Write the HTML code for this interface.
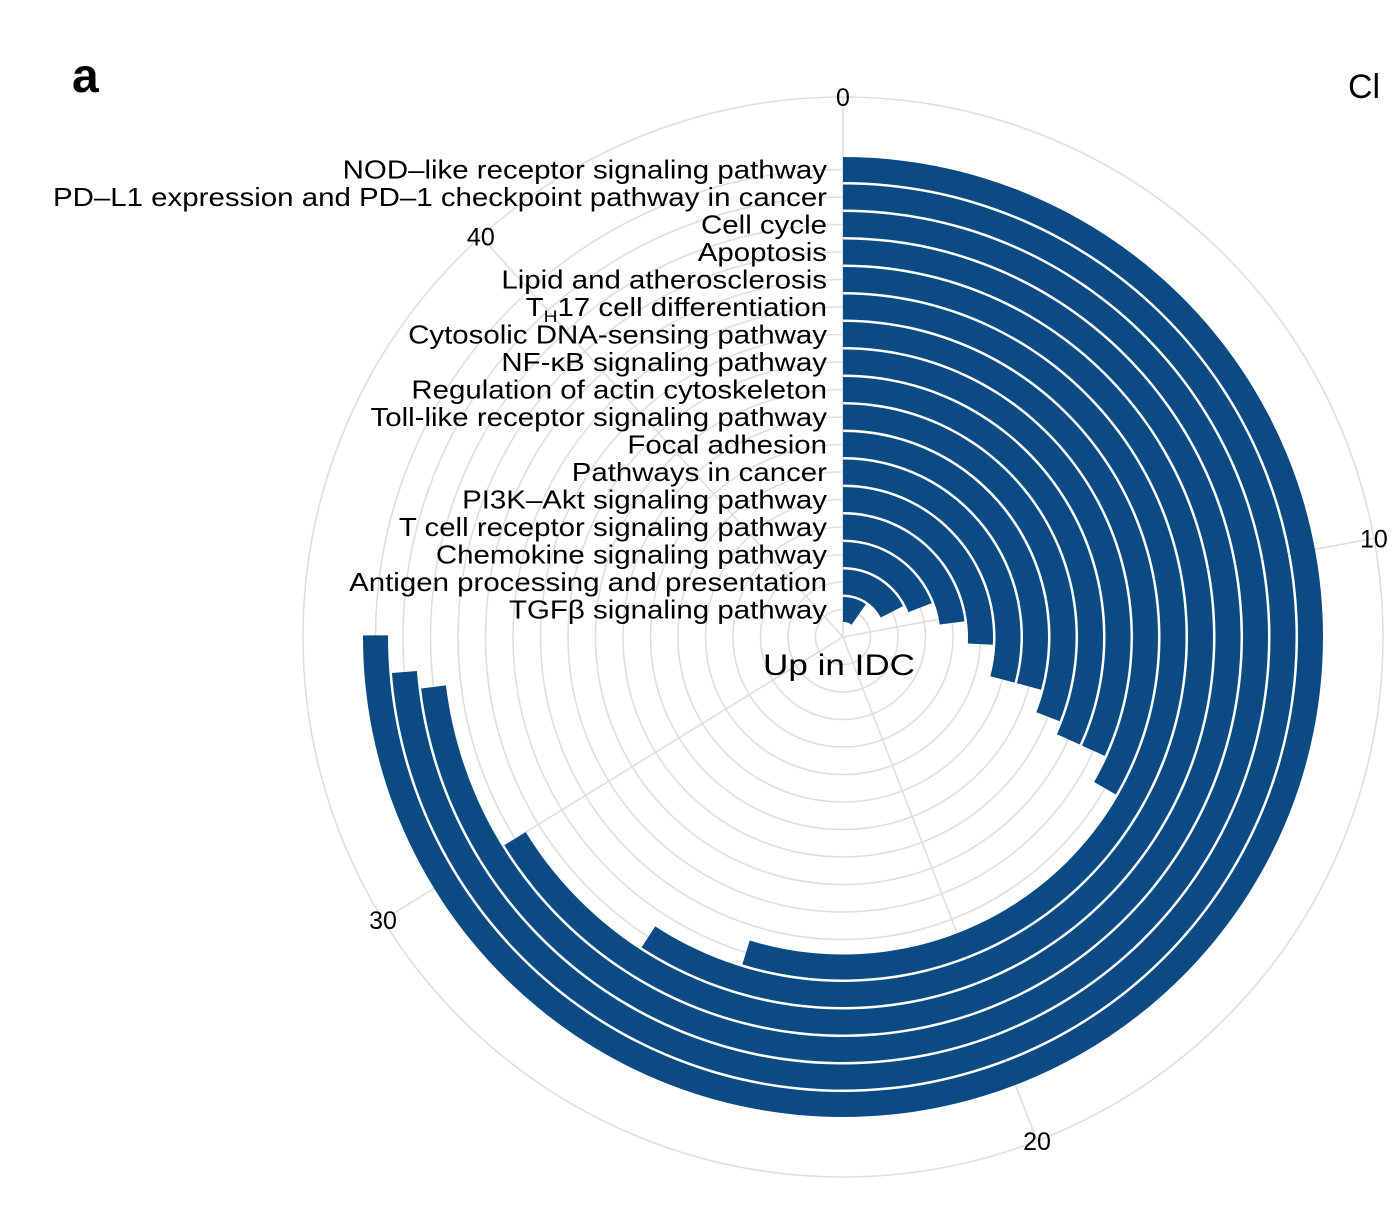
<!DOCTYPE html>
<html><head><meta charset="utf-8"><style>
html,body{margin:0;padding:0;background:#fff;}
svg{display:block;font-family:"Liberation Sans",sans-serif;}
</style></head><body>
<svg id="chart" width="1392" height="1212" viewBox="0 0 1392 1212" xmlns="http://www.w3.org/2000/svg">
<text x="72" y="92" font-size="48" font-weight="bold">a</text>
<text x="1348" y="98" font-size="34">Cl</text>
<g id="grid"></g>
<g id="bars"></g>
<g id="labels"></g>
<g id="ticks"></g>
<text x="839" y="675" font-size="30" text-anchor="middle" textLength="152" lengthAdjust="spacingAndGlyphs">Up in IDC</text>
</svg>
<script>
const categories = ["NOD–like receptor signaling pathway","PD–L1 expression and PD–1 checkpoint pathway in cancer","Cell cycle","Apoptosis","Lipid and atherosclerosis","TH17 cell differentiation","Cytosolic DNA-sensing pathway","NF-κB signaling pathway","Regulation of actin cytoskeleton","Toll-like receptor signaling pathway","Focal adhesion","Pathways in cancer","PI3K–Akt signaling pathway","T cell receptor signaling pathway","Chemokine signaling pathway","Antigen processing and presentation","TGFβ signaling pathway"];
const values = [34.0,33.4,33.1,30.0,26.8,24.8,15.1,14.4,14.4,14.0,13.2,13.2,11.7,10.4,8.7,7.9,4.4];
const tickValues = [0,10,20,30,40];
const tickLabels = ["0","10","20","30","40"];

const NS="http://www.w3.org/2000/svg";
const cx=843, cy=637, maxVal=45.3, outerR=540, pitch=27.5, barW=25;
function ang(v){return v/maxVal*2*Math.PI;}
function pt(r,v){const a=ang(v);return [cx+r*Math.sin(a), cy-r*Math.cos(a)];}
function rCenter(i){return pitch*(categories.length-i);}
function mk(tag,attrs,parent){const e=document.createElementNS(NS,tag);for(const k in attrs)e.setAttribute(k,attrs[k]);parent.appendChild(e);return e;}

const grid=document.getElementById('grid');
for(let k=1;k<=categories.length;k++){
  const c=mk('circle',{cx:cx,cy:cy,r:pitch*k,fill:'none',stroke:'#dedede','stroke-width':1.6},grid);
  
  
}
const oc=mk('circle',{cx:cx,cy:cy,r:outerR,fill:'none',stroke:'#dedede','stroke-width':1.6},grid);


tickValues.forEach((v,i)=>{
  const p=pt(outerR,v);
  const l=mk('line',{x1:cx,y1:cy,x2:p[0],y2:p[1],stroke:'#dedede','stroke-width':1.6},grid);
  
  
  const q=pt(outerR,v);
  const t=mk('text',{x:q[0],y:q[1]+9,'font-size':25,'text-anchor':'middle'},document.getElementById('ticks'));
  t.textContent=tickLabels[i];
  
  
});

const bars=document.getElementById('bars');
values.forEach((v,i)=>{
  const r0=rCenter(i)-barW/2, r1=rCenter(i)+barW/2;
  const a=pt(r1,0), b=pt(r1,v), c=pt(r0,v), d=pt(r0,0);
  const large = ang(v)>Math.PI?1:0;
  const dstr=`M${a[0]},${a[1]} A${r1},${r1} 0 ${large} 1 ${b[0]},${b[1]} L${c[0]},${c[1]} A${r0},${r0} 0 ${large} 0 ${d[0]},${d[1]} Z`;
  const p=mk('path',{d:dstr,fill:'#0c4a83'},bars);
  
  
});

const labels=document.getElementById('labels');
const texts=[];
categories.forEach((c,i)=>{
  const t=mk('text',{x:827,y:cy-rCenter(i)+9,'font-size':26,'text-anchor':'end'},labels);
  if(c.startsWith('TH17')){
    t.appendChild(document.createTextNode('T'));
    const s=mk('tspan',{'font-size':17,dy:6},t);s.textContent='H';
    const s2=mk('tspan',{dy:-6},t);s2.textContent='17 cell differentiation';
  } else t.textContent=c;
  
  
  texts.push(t);
});
const ref=texts[1].getComputedTextLength();
const f=ref>0?774/ref:1;
texts.forEach(t=>{const L=t.getComputedTextLength();t.setAttribute('textLength',L*f);t.setAttribute('lengthAdjust','spacingAndGlyphs');});
</script>
</body></html>
